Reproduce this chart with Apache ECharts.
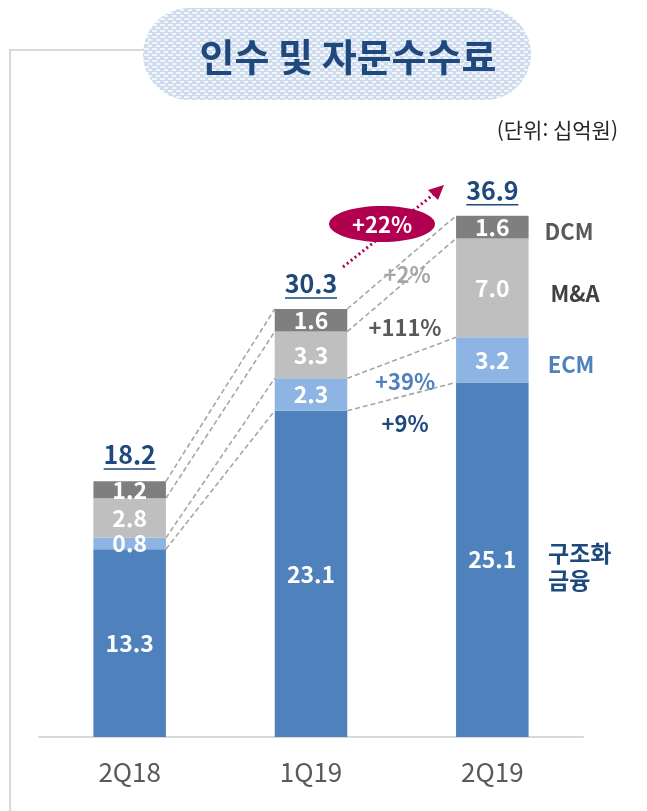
<!DOCTYPE html>
<html lang="ko">
<head>
    <meta charset="UTF-8">
    <title>인수 및 자문수수료</title>
    <script src="https://cdn.jsdelivr.net/npm/echarts/dist/echarts.min.js"></script>
    <style>
        body { margin: 0; background: #fff; }
        #chart { width: 647px; height: 811px; }
    </style>
</head>
<body>
    <div id="chart"></div>
    <script>
        // values in 십억원
        const quarters = ['2Q18', '1Q19', '2Q19'];
        const structured = [13.3, 23.1, 25.1];   // 구조화 금융
        const ecm = [0.8, 2.3, 3.2];
        const mna = [2.8, 3.3, 7.0];
        const dcm = [1.2, 1.6, 1.6];
        const totals = [18.2, 30.3, 36.9];
        const growthLabels = ['+9%', '+39%', '+111%', '+2%'];
        const totalGrowth = '+22%';

        const FONT = '"Noto Sans CJK KR", "Noto Sans", sans-serif';
        const NAVY = '#1F497D';
        const MAGENTA = '#B0004F';
        const BAR_RATIO = 0.4;

        // stacked boundaries for the dashed connectors
        const stacks = [structured, ecm, mna, dcm];
        const cum = [];
        let run = quarters.map(() => 0);
        stacks.forEach(s => {
            run = run.map((v, i) => v + s[i]);
            cum.push(run.slice());
        });
        const connectors = [];
        for (let i = 0; i < quarters.length - 1; i++) {
            cum.forEach(c => connectors.push([i, c[i], c[i + 1]]));
        }

        // dotted title-box pattern
        const pat = document.createElement('canvas');
        pat.width = 8; pat.height = 6;
        const pctx = pat.getContext('2d');
        pctx.fillStyle = '#CFDCEE';
        pctx.fillRect(0, 0, 8, 6);
        pctx.fillStyle = '#F2F6FB';
        pctx.fillRect(0, 0, 5, 2);
        pctx.fillRect(4, 3, 5, 2);
        pctx.fillRect(-1, 3, 1, 2);

        const chart = echarts.init(document.getElementById('chart'));

        const valueLabel = {
            show: true,
            position: 'inside',
            color: '#fff',
            fontFamily: FONT,
            fontWeight: 'bold',
            fontSize: 23,
            formatter: p => p.value.toFixed(1)
        };

        function barSeries(name, data, color) {
            return {
                name: name,
                type: 'bar',
                stack: 'total',
                barWidth: (BAR_RATIO * 100) + '%',
                data: data,
                itemStyle: { color: color },
                label: valueLabel,
                emphasis: { disabled: true }
            };
        }

        const txt = (text, x, y, color, size, extra) => Object.assign({
            type: 'text',
            x: x, y: y,
            style: Object.assign({
                text: text,
                fill: color,
                font: 'bold ' + size + 'px ' + FONT,
                textAlign: 'center',
                textVerticalAlign: 'middle'
            }, extra || {})
        });

        const option = {
            animation: false,
            grid: { left: 39, right: 64, top: 172, bottom: 74 },
            xAxis: {
                type: 'category',
                data: quarters,
                axisLine: { lineStyle: { color: '#D9D9D9', width: 2 } },
                axisTick: { show: false },
                axisLabel: {
                    color: '#595959',
                    fontFamily: FONT,
                    fontSize: 26,
                    margin: 22
                }
            },
            yAxis: { type: 'value', min: 0, max: 40, show: false },
            series: [
                barSeries('구조화 금융', structured, '#4F81BD'),
                barSeries('ECM', ecm, '#8DB4E2'),
                barSeries('M&A', mna, '#BFBFBF'),
                barSeries('DCM', dcm, '#7F7F7F'),
                {
                    type: 'custom',
                    name: 'connectors',
                    data: connectors,
                    silent: true,
                    renderItem: function (params, api) {
                        const p1 = api.coord([api.value(0), api.value(1)]);
                        const p2 = api.coord([api.value(0) + 1, api.value(2)]);
                        const half = api.size([1, 0])[0] * BAR_RATIO / 2;
                        return {
                            type: 'line',
                            shape: { x1: p1[0] + half, y1: p1[1], x2: p2[0] - half, y2: p2[1] },
                            style: { stroke: '#A6A6A6', lineWidth: 1.6, lineDash: [5, 3] }
                        };
                    }
                },
                {
                    type: 'custom',
                    name: 'totals',
                    data: totals.map((t, i) => [i, t]),
                    silent: true,
                    renderItem: function (params, api) {
                        const p = api.coord([api.value(0), api.value(1)]);
                        return {
                            type: 'group',
                            children: [
                                {
                                    type: 'text',
                                    x: p[0], y: p[1] - 13,
                                    style: {
                                        text: api.value(1).toFixed(1),
                                        fill: NAVY,
                                        font: 'bold 25px ' + FONT,
                                        textAlign: 'center',
                                        textVerticalAlign: 'bottom'
                                    }
                                },
                                {
                                    type: 'line',
                                    shape: { x1: p[0] - 26, y1: p[1] - 11, x2: p[0] + 26, y2: p[1] - 11 },
                                    style: { stroke: NAVY, lineWidth: 1.5 }
                                }
                            ]
                        };
                    }
                }
            ],
            graphic: [
                {
                    type: 'polyline',
                    shape: { points: [[10, 811], [10, 50], [150, 50]] },
                    style: { stroke: '#D9D9D9', lineWidth: 2, fill: null }
                },
                {
                    type: 'rect',
                    shape: { x: 143, y: 8, width: 388, height: 92, r: 46 },
                    style: { fill: { image: pat, repeat: 'repeat' } }
                },
                txt('인수 및 자문수수료', 348, 57, NAVY, 38),
                txt('(단위: 십억원)', 618, 130, '#262626', 21, { textAlign: 'right', font: '21px ' + FONT }),
                // growth annotations
                txt(growthLabels[3], 407, 275, '#A6A6A6', 22),
                txt(growthLabels[2], 405, 328, '#595959', 22),
                txt(growthLabels[1], 405, 382, '#4F81BD', 22),
                txt(growthLabels[0], 405, 424, NAVY, 22),
                // +22% arrow
                {
                    type: 'line',
                    shape: { x1: 343, y1: 267, x2: 434, y2: 194 },
                    style: { stroke: MAGENTA, lineWidth: 3, lineDash: [2, 3] }
                },
                {
                    type: 'polygon',
                    shape: { points: [[444, 185], [428, 190], [438, 200]] },
                    style: { fill: MAGENTA }
                },
                {
                    type: 'ellipse',
                    shape: { cx: 382, cy: 224, rx: 53, ry: 18 },
                    style: { fill: MAGENTA }
                },
                txt(totalGrowth, 382, 225, '#fff', 22),
                // series names
                txt('DCM', 569, 232, '#595959', 22),
                txt('M&A', 575, 294, '#404040', 22),
                txt('ECM', 571, 365, '#4F81BD', 22),
                txt('구조화\n금융', 548, 567, NAVY, 23, { textAlign: 'left', lineHeight: 27 })
            ]
        };

        chart.setOption(option);
    </script>
</body>
</html>
